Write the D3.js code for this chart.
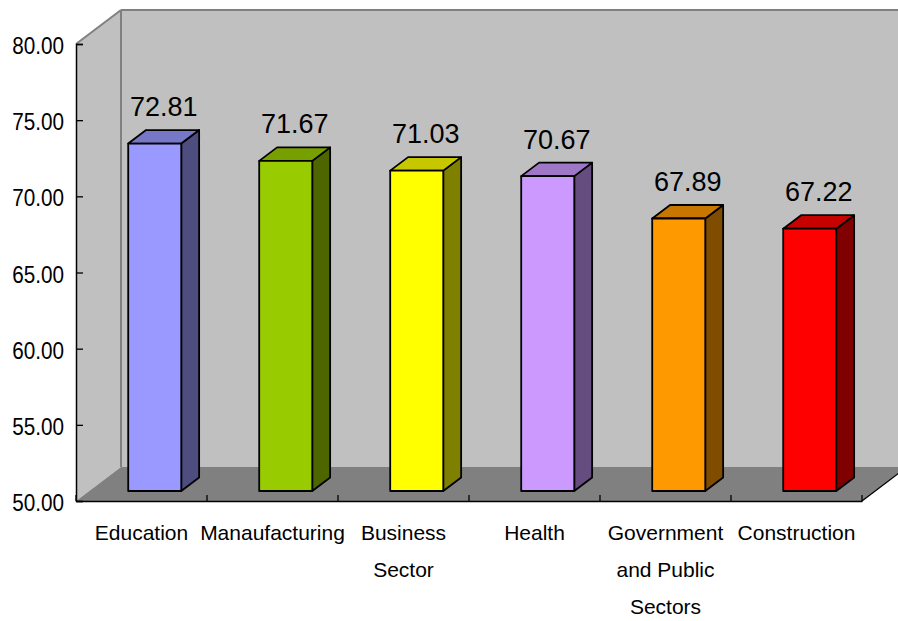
<!DOCTYPE html>
<html>
<head>
<meta charset="utf-8">
<script src="https://cdn.jsdelivr.net/npm/d3@7"></script>
<style>
  html, body { margin: 0; padding: 0; background: #ffffff; }
  svg { display: block; font-family: "Liberation Sans", Arial, sans-serif; }
</style>
</head>
<body>
<svg id="chart" width="898" height="621"></svg>
<script>
// Sector scores
const categories = ["Education", "Manaufacturing", "Business Sector", "Health", "Government and Public Sectors", "Construction"];
const categoryLines = [["Education"], ["Manaufacturing"], ["Business", "Sector"], ["Health"], ["Government", "and Public", "Sectors"], ["Construction"]];
const values = [72.81, 71.67, 71.03, 70.67, 67.89, 67.22];
const yTicks = [50, 55, 60, 65, 70, 75, 80];
const palette = ["#9999FF", "#99CC00", "#FFFF00", "#CC99FF", "#FF9900", "#FF0000"];

const svg = d3.select("#chart");

// Front plane of the 3D box
const x = d3.scaleBand().domain(categories).range([76, 862]).paddingInner(0.595).paddingOuter(0.2975);
const slot = d3.scaleBand().domain(categories).range([76, 862]);
const y = d3.scaleLinear().domain([50, 80]).range([501, 44]);

// Depth projection: d = 0 at front, 1 at back wall
const DX = 45, DY = -34;
const P = (px, py, d) => [px + DX * d, py + DY * d];
const poly = pts => pts.map(p => p.join(",")).join(" ");

const xL = 76, xR = 862;
const yBot = y(50), yTop = y(80);

// Back wall
svg.append("polygon")
  .attr("points", poly([P(xL, yTop, 1), P(xR + 60, yTop, 1), P(xR + 60, yBot, 1), P(xL, yBot, 1)]))
  .attr("fill", "#c0c0c0");
// Left side wall
svg.append("polygon")
  .attr("points", poly([P(xL, yTop, 0), P(xL, yTop, 1), P(xL, yBot, 1), P(xL, yBot, 0)]))
  .attr("fill", "#c0c0c0");
// Floor
svg.append("polygon")
  .attr("points", poly([P(xL, yBot, 0), P(xL, yBot, 1), P(xR, yBot, 1), P(xR, yBot, 0)]))
  .attr("fill", "#808080");

// Wall edges
const edge = (a, b, color, w) => svg.append("line")
  .attr("x1", a[0]).attr("y1", a[1]).attr("x2", b[0]).attr("y2", b[1])
  .attr("stroke", color).attr("stroke-width", w);
edge(P(xL, yTop, 0), P(xL, yTop, 1), "#808080", 2);
edge(P(xL, yTop, 1), P(xR + 60, yTop, 1), "#808080", 2);
edge(P(xL, yTop, 1), P(xL, yBot, 1), "#808080", 2);
edge(P(xR, yBot, 0), P(xR, yBot, 1), "#000000", 1.3);

// Value axis
const yAxis = d3.axisRight(y).tickValues(yTicks).tickSize(7).tickFormat("");
const gy = svg.append("g").attr("transform", `translate(${xL},0)`).call(yAxis);
gy.select(".domain").attr("stroke", "#000").attr("stroke-width", 1.5);
gy.selectAll(".tick line").attr("stroke", "#000").attr("stroke-width", 1.3);

svg.append("g").selectAll("text")
  .data(yTicks)
  .join("text")
  .attr("transform", d => `translate(64,${y(d) + 10}) scale(0.9,1)`)
  .attr("text-anchor", "end")
  .attr("font-size", 23)
  .attr("fill", "#000")
  .text(d => d3.format(".2f")(d));

// Category axis
const xAxis = d3.axisTop(slot).tickSize(6).tickFormat("").tickSizeOuter(0);
const gx = svg.append("g").attr("transform", `translate(0,${yBot})`).call(xAxis);
gx.select(".domain").attr("stroke", "#000").attr("stroke-width", 1.5);
gx.selectAll(".tick").remove();
gx.selectAll(".edgeTick")
  .data(d3.range(categories.length + 1))
  .join("line")
  .attr("x1", i => xL + i * slot.step()).attr("x2", i => xL + i * slot.step())
  .attr("y1", 0).attr("y2", -6)
  .attr("stroke", "#000").attr("stroke-width", 1.3);

svg.append("g").selectAll("g")
  .data(categories)
  .join("g")
  .attr("transform", c => `translate(${slot(c) + slot.bandwidth() / 2},0)`)
  .each(function (c, i) {
    d3.select(this).selectAll("text")
      .data(categoryLines[i])
      .join("text")
      .attr("x", 0)
      .attr("y", (t, k) => 540 + k * 37)
      .attr("text-anchor", "middle")
      .attr("font-size", 21)
      .attr("fill", "#000")
      .text(t => t);
  });

// Bars
const d0 = 10 / 34, d1 = 23.5 / 34;
const shade = (c, k) => { const r = d3.rgb(c); return d3.rgb(r.r * k, r.g * k, r.b * k).formatHex(); };

const bars = svg.append("g").selectAll("g")
  .data(categories.map((c, i) => ({ c, v: values[i], col: palette[i] })))
  .join("g");

bars.each(function (d) {
  const g = d3.select(this);
  const x0 = x(d.c), x1 = x(d.c) + x.bandwidth();
  const yt = y(d.v), yb = y(50);
  const style = sel => sel.attr("stroke", "#000").attr("stroke-width", 1.8).attr("stroke-linejoin", "round");
  // side face
  g.append("polygon").attr("points", poly([P(x1, yt, d0), P(x1, yt, d1), P(x1, yb, d1), P(x1, yb, d0)]))
    .attr("fill", shade(d.col, 0.5)).call(style);
  // top face
  g.append("polygon").attr("points", poly([P(x0, yt, d0), P(x0, yt, d1), P(x1, yt, d1), P(x1, yt, d0)]))
    .attr("fill", shade(d.col, 0.78)).call(style);
  // front face
  g.append("polygon").attr("points", poly([P(x0, yt, d0), P(x1, yt, d0), P(x1, yb, d0), P(x0, yb, d0)]))
    .attr("fill", d.col).call(style);
  // value label above the top face
  const lx = P((x0 + x1) / 2, yt, (d0 + d1) / 2)[0];
  g.append("text")
    .attr("x", lx)
    .attr("y", P(0, yt, d1)[1] - 14)
    .attr("text-anchor", "middle")
    .attr("font-size", 27)
    .attr("fill", "#000")
    .text(d3.format(".2f")(d.v));
});
</script>
</body>
</html>
